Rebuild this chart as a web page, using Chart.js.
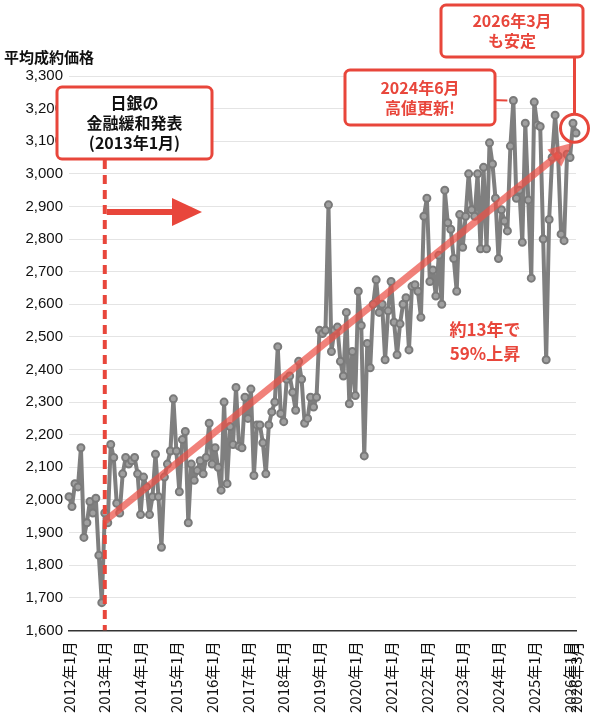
<!DOCTYPE html>
<html>
<head>
<meta charset="utf-8">
<script src="https://cdn.jsdelivr.net/npm/chart.js@4"></script>
<style>
body{margin:0;background:#fff;}
#wrap{position:relative;width:600px;height:722px;}
</style>
</head>
<body>
<div id="wrap"><canvas id="priceChart" width="600" height="722"></canvas></div>
<script>
const startYear = 2012;
const monthCount = 171;

const prices = [
2010,1980,2050,2040,2160,1885,1930,1995,1960,2005,1830,1685,
1960,1930,2170,2130,1990,1960,2080,2130,2110,2120,2130,2080,
1955,2070,2040,1955,2010,2140,2010,1855,2070,2110,2150,2310,
2150,2025,2185,2210,1930,2110,2060,2090,2120,2080,2130,2235,
2110,2160,2100,2030,2300,2050,2225,2170,2345,2165,2160,2315,
2250,2340,2075,2230,2230,2175,2080,2230,2270,2300,2470,2265,
2240,2370,2380,2330,2275,2425,2370,2235,2250,2315,2285,2315,
2520,2510,2520,2905,2455,2520,2530,2425,2380,2575,2295,2455,
2320,2640,2535,2135,2480,2405,2600,2675,2575,2600,2430,2580,
2670,2545,2445,2540,2600,2620,2460,2655,2660,2640,2560,2870,
2925,2670,2705,2625,2750,2600,2950,2850,2830,2740,2640,2875,
2775,2870,3000,2890,2870,3000,2770,3020,2770,3095,3030,2925,
2740,2890,2855,2825,3085,3225,2925,2950,2790,3155,2920,2680,
3220,3150,3145,2800,2430,2860,3050,3180,3055,2815,2795,3060,
3050,3155,3125
];

const monthLabels = [];
for(let i=0;i<monthCount;i++){
    monthLabels.push((startYear+Math.floor(i/12))+"年"+(i%12+1)+"月");
}

const boj = {index:12, text:["日銀の","金融緩和発表","(2013年1月)"]};
const trend = {from:[12,1935], to:[169,3095], text:["約13年で","59%上昇"]};
const highNote = {index:149, text:["2024年6月","高値更新!"]};
const lastNote = {index:170, text:["2026年3月","も安定"]};

const RED = "#e8463b";

function box(ctx,x,y,w,h,lines,size,color){
    ctx.save();
    ctx.fillStyle="#fff";
    ctx.strokeStyle=RED;
    ctx.lineWidth=3;
    ctx.beginPath();
    ctx.roundRect(x,y,w,h,5);
    ctx.fill();
    ctx.stroke();
    ctx.fillStyle=color;
    ctx.textAlign="center";
    ctx.textBaseline="middle";
    ctx.font="bold "+size+"px 'Noto Sans CJK JP'";
    const lh=size*1.25;
    lines.forEach((t,k)=>{
        ctx.fillText(t,x+w/2,y+h/2+(k-(lines.length-1)/2)*lh);
    });
    ctx.restore();
}

const notesPlugin = {
    id:"notes",
    afterDatasetsDraw(chart){
        const ctx=chart.ctx;
        const xs=chart.scales.x, ys=chart.scales.y;
        const area=chart.chartArea;

        // BOJ dashed line
        const bx=xs.getPixelForValue(boj.index);
        ctx.save();
        ctx.strokeStyle=RED;
        ctx.lineWidth=4;
        ctx.setLineDash([9,6]);
        ctx.beginPath();
        ctx.moveTo(bx,160);
        ctx.lineTo(bx,area.bottom);
        ctx.stroke();
        ctx.setLineDash([]);

        // arrow to the right
        ctx.lineWidth=6;
        ctx.beginPath();
        ctx.moveTo(bx+2,212);
        ctx.lineTo(178,212);
        ctx.stroke();
        ctx.fillStyle=RED;
        ctx.beginPath();
        ctx.moveTo(202,212);
        ctx.lineTo(172,198);
        ctx.lineTo(172,226);
        ctx.closePath();
        ctx.fill();

        // trend arrow
        const x1=xs.getPixelForValue(trend.from[0]), y1=ys.getPixelForValue(trend.from[1]);
        const x2=xs.getPixelForValue(trend.to[0]), y2=ys.getPixelForValue(trend.to[1]);
        const ang=Math.atan2(y2-y1,x2-x1);
        ctx.strokeStyle="rgba(236,80,70,0.72)";
        ctx.fillStyle="rgba(236,80,70,0.72)";
        ctx.lineWidth=7;
        ctx.beginPath();
        ctx.moveTo(x1,y1);
        ctx.lineTo(x2-18*Math.cos(ang),y2-18*Math.sin(ang));
        ctx.stroke();
        ctx.beginPath();
        ctx.moveTo(x2,y2);
        ctx.lineTo(x2-24*Math.cos(ang)+11*Math.sin(ang),y2-24*Math.sin(ang)-11*Math.cos(ang));
        ctx.lineTo(x2-24*Math.cos(ang)-11*Math.sin(ang),y2-24*Math.sin(ang)+11*Math.cos(ang));
        ctx.closePath();
        ctx.fill();

        ctx.fillStyle=RED;
        ctx.font="bold 17px 'Noto Sans CJK JP'";
        ctx.textAlign="center";
        ctx.textBaseline="middle";
        ctx.fillText(trend.text[0],485,330);
        ctx.fillText(trend.text[1],485,354);

        // high note pointer
        const hx=xs.getPixelForValue(highNote.index), hy=ys.getPixelForValue(3225);
        ctx.strokeStyle=RED;
        ctx.lineWidth=2;
        ctx.beginPath();
        ctx.moveTo(490,100);
        ctx.lineTo(hx-6,hy);
        ctx.stroke();

        // last point circle + pointer
        const lx=xs.getPixelForValue(lastNote.index-0.5), ly=ys.getPixelForValue(3140);
        ctx.lineWidth=3;
        ctx.beginPath();
        ctx.arc(lx,ly,14,0,Math.PI*2);
        ctx.stroke();
        ctx.beginPath();
        ctx.moveTo(lx,ly-14);
        ctx.lineTo(lx,52);
        ctx.stroke();
        ctx.restore();

        box(ctx,57,87,155,72,boj.text,16,"#111");
        box(ctx,345,70,150,55,highNote.text,16,RED);
        box(ctx,441,5,142,52,lastNote.text,16,RED);

        // axis title
        ctx.save();
        ctx.fillStyle="#111";
        ctx.font="bold 15px 'Noto Sans CJK JP'";
        ctx.textBaseline="middle";
        ctx.fillText("平均成約価格",4,57);
        ctx.restore();
    }
};

new Chart(document.getElementById("priceChart"),{
    type:"line",
    data:{
        labels:monthLabels,
        datasets:[{
            data:prices,
            borderColor:"#7f7f7f",
            borderWidth:4,
            borderJoinStyle:"round",
            pointRadius:3.5,
            pointBackgroundColor:"#a0a0a0",
            pointBorderColor:"#7a7a7a",
            pointBorderWidth:2,
            tension:0
        }]
    },
    options:{
        responsive:false,
        animation:false,
        layout:{padding:{top:76,right:24,left:0,bottom:6}},
        plugins:{legend:{display:false},tooltip:{enabled:false}},
        scales:{
            x:{
                offset:false,
                grid:{display:false},
                border:{color:"#333",width:1.5},
                ticks:{
                    autoSkip:false,
                    maxRotation:90,
                    minRotation:90,
                    color:"#111",
                    font:{size:15,family:"'Noto Sans CJK JP'"},
                    callback:(v,i)=> (i%12===0 || i===monthCount-1) ? monthLabels[i] : null
                }
            },
            y:{
                min:1600,
                max:3300,
                afterFit(s){s.width=69;},
                grid:{color:"#e4e4e4",drawTicks:false},
                border:{display:false},
                ticks:{
                    stepSize:100,
                    padding:6,
                    color:"#111",
                    font:{size:15,family:"'Liberation Sans'"},
                    callback:v=>v.toLocaleString("en-US")
                }
            }
        }
    },
    plugins:[notesPlugin]
});
</script>
</body>
</html>
